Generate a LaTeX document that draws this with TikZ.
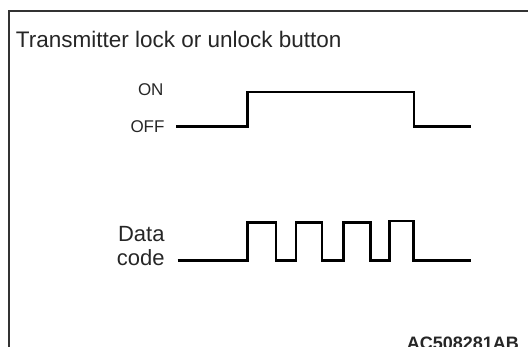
\documentclass[tikz,border=0pt]{standalone}
\usepackage{fontspec}
\setmainfont{Liberation Sans}
\begin{document}
\begin{tikzpicture}[x=1pt,y=-1pt,
  lbl/.style={inner sep=0pt,outer sep=0pt,text=black!85},
  wave/.style={line width=2.8pt,black,line join=miter,line cap=butt},
  frame/.style={line width=2pt,black!80}]
\useasboundingbox (0,0) rectangle (528,347);
% frame
\draw[frame] (9,347) -- (9,11) -- (528,11);
% title
\node[lbl,anchor=base west,font=\fontsize{22.5}{24}\selectfont] (title) at (16,48) {Transmitter lock or unlock button};
% ON/OFF labels
\node[lbl,anchor=base east,font=\fontsize{17}{20}\selectfont] (on) at (163.5,95.5) {ON};
\node[lbl,anchor=base east,font=\fontsize{17}{20}\selectfont] (off) at (164.5,132.5) {OFF};
% ON/OFF waveform
\coordinate (w1s) at (176,126.5);
\coordinate (w1e) at (471,126.5);
\draw[wave] (w1s) -- (247.7,126.5) -- (247.7,92) -- (414,92) -- (414,126.5) -- (w1e);
% Data code label
\node[lbl,anchor=base east,align=right,font=\fontsize{22}{24}\selectfont] (data) at (164.5,265.7) {Data\\code};
% Data code waveform
\coordinate (w2s) at (177.5,260.5);
\coordinate (w2e) at (471,260.5);
\draw[wave] (w2s) -- (247.7,260.5) -- (247.7,222.5) -- (276,222.5) -- (276,260.5)
  -- (296,260.5) -- (296,222.5) -- (322,222.5) -- (322,260.5)
  -- (343.3,260.5) -- (343.3,222.5) -- (370.7,222.5) -- (370.7,260.5)
  -- (389.3,260.5) -- (389.3,221) -- (413.5,221) -- (413.5,260.5) -- (w2e);
% code
\node[lbl,anchor=base east,font=\bfseries\fontsize{18}{20}\selectfont] (code) at (519,349.5) {AC508281AB};
\end{tikzpicture}
\end{document}
